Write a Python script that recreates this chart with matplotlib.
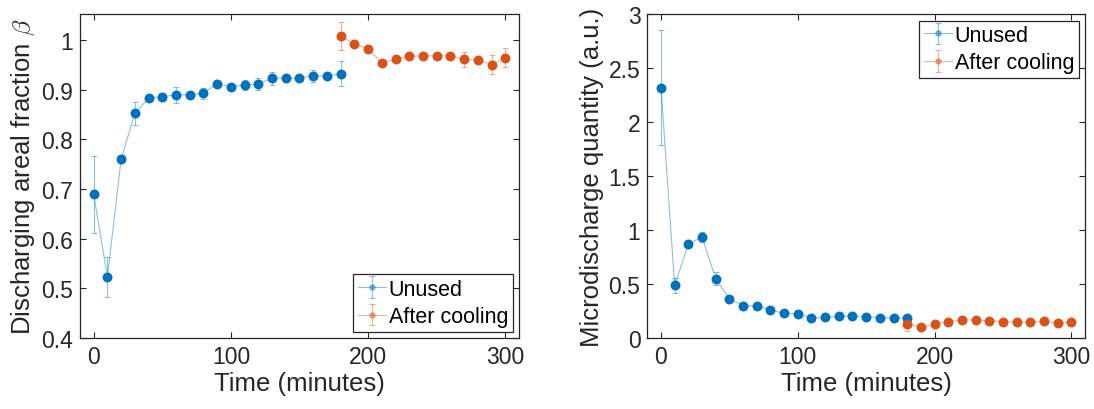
import matplotlib
matplotlib.use("Agg")
from matplotlib import pyplot as plt
import numpy as np

plt.rcParams['font.family'] = ['Liberation Sans', 'DejaVu Sans']
plt.rcParams['mathtext.fontset'] = 'cm'

blue = '#0072BD'
orange = '#D95319'

# time axes (minutes)
t_unused = np.arange(0, 181, 10)
t_cool = np.arange(180, 301, 10)

# discharging areal fraction beta
beta_unused = [0.689, 0.523, 0.760, 0.852, 0.883, 0.886, 0.889, 0.890, 0.893, 0.912,
               0.906, 0.909, 0.912, 0.923, 0.923, 0.923, 0.928, 0.927, 0.932]
beta_unused_err = [0.077, 0.041, 0.008, 0.023, 0.004, 0.008, 0.016, 0.006, 0.011, 0.004,
                   0.004, 0.010, 0.012, 0.013, 0.004, 0.003, 0.012, 0.004, 0.025]
beta_cool = [1.008, 0.992, 0.982, 0.954, 0.961, 0.967, 0.968, 0.968, 0.968, 0.961,
             0.960, 0.950, 0.964]
beta_cool_err = [0.029, 0.004, 0.004, 0.004, 0.005, 0.004, 0.004, 0.004, 0.004, 0.015,
                 0.005, 0.019, 0.019]

# microdischarge quantity
mq_unused = [2.318, 0.488, 0.870, 0.935, 0.549, 0.364, 0.299, 0.299, 0.259, 0.228,
             0.225, 0.185, 0.191, 0.201, 0.204, 0.198, 0.188, 0.185, 0.185]
mq_unused_err = [0.53, 0.07, 0.02, 0.05, 0.06, 0.01, 0.01, 0.01, 0.01, 0.01,
                 0.01, 0.01, 0.01, 0.01, 0.01, 0.01, 0.01, 0.01, 0.03]
mq_cool = [0.130, 0.099, 0.127, 0.151, 0.167, 0.167, 0.160, 0.151, 0.148, 0.148,
           0.154, 0.139, 0.148]
mq_cool_err = [0.065, 0.01, 0.01, 0.01, 0.01, 0.01, 0.01, 0.01, 0.01, 0.01,
               0.01, 0.01, 0.01]

TXT = '#262626'


def series(ax, x, y, e, c, label):
    eb = ax.errorbar(x, y, yerr=e, color=c, lw=0.8, elinewidth=0.8, capsize=2.5,
                     capthick=0.8, marker='o', ms=6, mfc=c, mec=c, label=label)
    eb[0].set_alpha(0.45)
    for a in eb[1]:
        a.set_alpha(0.45)
    for a in eb[2]:
        a.set_alpha(0.45)
    # solid markers on top of the faded line
    ax.plot(x, y, 'o', ms=6, color=c, zorder=3)


def style(ax):
    ax.set_xlim(-10, 310)
    ax.set_xticks([0, 100, 200, 300])
    ax.tick_params(direction='in', top=True, right=True, length=4, width=0.8,
                   labelsize=16.5, colors=TXT, pad=5)
    for s in ax.spines.values():
        s.set_color(TXT)
        s.set_linewidth(0.9)
    ax.set_xlabel('Time (minutes)', fontsize=18.5, color=TXT, labelpad=2)


def legend(ax, loc):
    lg = ax.legend(loc=loc, fontsize=15.5, frameon=True, fancybox=False, edgecolor=TXT,
                   framealpha=1, borderpad=0.2, handlelength=1.3, handletextpad=0.15,
                   labelspacing=0.3, markerscale=0.6, borderaxespad=0.3)
    lg.get_frame().set_linewidth(0.9)


fig = plt.figure(figsize=(10.94, 4.10), dpi=100)
ax1 = fig.add_axes([0.0731, 0.1732, 0.4013, 0.790])
ax2 = fig.add_axes([0.5917, 0.1732, 0.4001, 0.790])

series(ax1, t_unused, beta_unused, beta_unused_err, blue, 'Unused')
series(ax1, t_cool, beta_cool, beta_cool_err, orange, 'After cooling')
style(ax1)
ax1.set_ylim(0.4, 1.052)
ax1.set_yticks([0.4, 0.5, 0.6, 0.7, 0.8, 0.9, 1.0])
ax1.set_yticklabels(['0.4', '0.5', '0.6', '0.7', '0.8', '0.9', '1'])
ax1.set_ylabel(r'Discharging areal fraction $\beta$', fontsize=18.5, color=TXT, labelpad=3)
legend(ax1, 'lower right')

series(ax2, t_unused, mq_unused, mq_unused_err, blue, 'Unused')
series(ax2, t_cool, mq_cool, mq_cool_err, orange, 'After cooling')
style(ax2)
ax2.set_ylim(0, 3)
ax2.set_yticks([0, 0.5, 1, 1.5, 2, 2.5, 3])
ax2.set_yticklabels(['0', '0.5', '1', '1.5', '2', '2.5', '3'])
ax2.set_ylabel('Microdischarge quantity (a.u.)', fontsize=18.5, color=TXT, labelpad=3)
legend(ax2, 'upper right')

fig.savefig('out.png', dpi=100)
